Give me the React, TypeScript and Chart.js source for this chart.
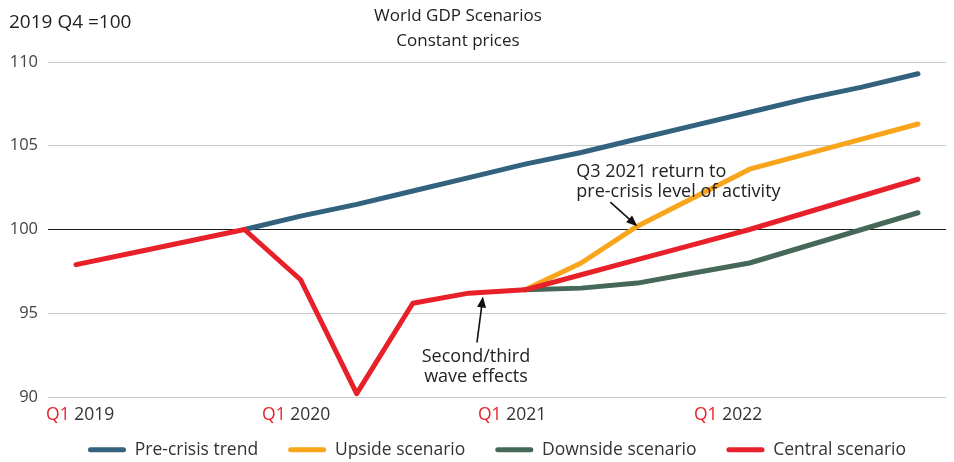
import { useEffect, useRef } from 'react';
import { Chart, registerables } from 'chart.js';

Chart.register(...registerables);

const quarters = [
  'Q1 2019', 'Q2 2019', 'Q3 2019', 'Q4 2019',
  'Q1 2020', 'Q2 2020', 'Q3 2020', 'Q4 2020',
  'Q1 2021', 'Q2 2021', 'Q3 2021', 'Q4 2021',
  'Q1 2022', 'Q2 2022', 'Q3 2022', 'Q4 2022',
];
const preCrisisTrend = [null, null, null, 100, 100.8, 101.5, 102.3, 103.1, 103.9, 104.6, 105.4, 106.2, 107.0, 107.8, 108.5, 109.3];
const upsideScenario = [null, null, null, null, null, null, null, null, 96.4, 98.0, 100.2, 101.9, 103.6, 104.5, 105.4, 106.3];
const downsideScenario = [null, null, null, null, null, null, null, null, 96.4, 96.5, 96.8, 97.4, 98.0, 99.0, 100.0, 101.0];
const centralScenario = [97.9, 98.6, 99.3, 100.0, 97.0, 90.2, 95.6, 96.2, 96.4, 97.3, 98.2, 99.1, 100.0, 101.0, 102.0, 103.0];

const seriesNames = ['Pre-crisis trend', 'Upside scenario', 'Downside scenario', 'Central scenario'];
const seriesColors = ['#33627F', '#F8A51C', '#466858', '#E8202A'];

const xLabelIndices = [0, 4, 8, 12];
const xLabelQuarter = 'Q1';
const xLabelYears = ['2019', '2020', '2021', '2022'];
const xLabelSpacing = 0.962; // labels in the source sit slightly tighter than the quarters

const yTicks = [90, 95, 100, 105, 110];
const titleLines = ['World GDP Scenarios', 'Constant prices'];
const unitLabel = '2019 Q4 =100';
const note1 = ['Q3 2021 return to', 'pre-crisis level of activity'];
const note2 = ['Second/third', 'wave effects'];

const FONT = '"Open Sans", "Noto Sans", sans-serif';

function drawArrow(ctx: CanvasRenderingContext2D, x0: number, y0: number, x1: number, y1: number) {
  const ang = Math.atan2(y1 - y0, x1 - x0);
  const head = 11;
  const half = 4.5;
  ctx.strokeStyle = '#111';
  ctx.fillStyle = '#111';
  ctx.lineWidth = 1.6;
  ctx.beginPath();
  ctx.moveTo(x0, y0);
  ctx.lineTo(x1 - Math.cos(ang) * head * 0.8, y1 - Math.sin(ang) * head * 0.8);
  ctx.stroke();
  ctx.beginPath();
  ctx.moveTo(x1, y1);
  ctx.lineTo(x1 - Math.cos(ang) * head - Math.sin(ang) * half, y1 - Math.sin(ang) * head + Math.cos(ang) * half);
  ctx.lineTo(x1 - Math.cos(ang) * head + Math.sin(ang) * half, y1 - Math.sin(ang) * head - Math.cos(ang) * half);
  ctx.closePath();
  ctx.fill();
}

const overlayPlugin = {
  id: 'overlay',
  afterDraw(chart: any) {
    const { ctx, scales } = chart;
    const x = scales.x;
    const y = scales.y;
    ctx.save();
    ctx.textBaseline = 'middle';

    ctx.fillStyle = '#222';
    ctx.textAlign = 'left';
    ctx.font = `19px ${FONT}`;
    ctx.fillText(unitLabel, 9, 23);

    ctx.textAlign = 'center';
    ctx.font = `17px ${FONT}`;
    ctx.fillText(titleLines[0], 458, 16);
    ctx.fillText(titleLines[1], 458, 41);

    // x labels
    ctx.textAlign = 'left';
    ctx.font = `17.5px ${FONT}`;
    xLabelIndices.forEach((idx, i) => {
      const px = x.getPixelForValue(idx * xLabelSpacing) - 30;
      ctx.fillStyle = '#E8202A';
      ctx.fillText(xLabelQuarter, px, 415);
      const w = ctx.measureText(xLabelQuarter + ' ').width;
      ctx.fillStyle = '#333';
      ctx.fillText(xLabelYears[i], px + w, 415);
    });

    // annotation 1
    const t1x = x.getPixelForValue(10);
    const t1y = y.getPixelForValue(100.2);
    const a1x = t1x - 27;
    const a1y = t1y - 24;
    drawArrow(ctx, a1x, a1y, t1x, t1y);
    ctx.fillStyle = '#222';
    ctx.textAlign = 'left';
    ctx.font = `18px ${FONT}`;
    ctx.fillText(note1[0], a1x - 34, a1y - 30);
    ctx.fillText(note1[1], a1x - 34, a1y - 10);

    // annotation 2
    const t2x = x.getPixelForValue(7.25);
    const t2y = y.getPixelForValue(96.0);
    const a2x = t2x - 6;
    const a2y = t2y + 46;
    drawArrow(ctx, a2x, a2y, t2x, t2y);
    ctx.fillStyle = '#222';
    ctx.textAlign = 'center';
    ctx.fillText(note2[0], a2x - 1, a2y + 14);
    ctx.fillText(note2[1], a2x - 1, a2y + 34);

    ctx.restore();
  },
};

export default function App() {
  const ref = useRef<HTMLCanvasElement | null>(null);

  useEffect(() => {
    if (!ref.current) return;
    const seriesData = [preCrisisTrend, upsideScenario, downsideScenario, centralScenario];
    const orders = [3, 2, 1, 0];
    const chart = new Chart(ref.current, {
      type: 'line',
      data: {
        labels: quarters,
        datasets: seriesData.map((d, i) => ({
          label: seriesNames[i],
          data: d,
          borderColor: seriesColors[i],
          backgroundColor: seriesColors[i],
          borderWidth: 5,
          pointRadius: 0,
          pointHoverRadius: 0,
          tension: 0,
          fill: false,
          borderCapStyle: 'round',
          borderJoinStyle: 'round',
          order: orders[i],
          spanGaps: false,
        })),
      },
      options: {
        responsive: false,
        animation: false,
        events: [],
        layout: { padding: { left: 10, right: 8, top: 62, bottom: 0 } },
        scales: {
          x: {
            type: 'category',
            offset: true,
            grid: { display: false },
            border: { display: false },
            ticks: { display: false },
            afterFit: (s: any) => { s.height = 14; },
          },
          y: {
            min: 90,
            max: 110,
            afterBuildTicks: (s: any) => { s.ticks = yTicks.map((v) => ({ value: v })); },
            afterFit: (s: any) => { s.width = 38; },
            border: { display: false },
            grid: {
              drawTicks: false,
              lineWidth: 1,
              color: (c: any) => (c.tick && c.tick.value === 100 ? '#1a1a1a' : '#c6cacf'),
            },
            ticks: {
              padding: 10,
              color: '#444',
              font: { family: FONT, size: 16.5 },
            },
          },
        },
        plugins: {
          title: { display: false },
          tooltip: { enabled: false },
          legend: {
            position: 'bottom',
            fullSize: false,
            maxHeight: 51,
            labels: {
              boxWidth: 38,
              boxHeight: 5,
              useBorderRadius: true,
              borderRadius: 2.5,
              padding: 30,
              color: '#333',
              font: { family: FONT, size: 17.5 },
              sort: (a: any, b: any) => a.datasetIndex - b.datasetIndex,
              generateLabels: (ch: any) =>
                Chart.defaults.plugins.legend.labels.generateLabels(ch).map((it: any) => ({
                  ...it,
                  fillStyle: seriesColors[it.datasetIndex],
                  strokeStyle: seriesColors[it.datasetIndex],
                  lineWidth: 0,
                  borderRadius: 2.5,
                })),
            },
          },
        },
      },
      plugins: [overlayPlugin],
    } as any);
    return () => chart.destroy();
  }, []);

  return (
    <div style={{ position: 'fixed', left: 0, top: 0, width: 954, height: 462, background: '#fff' }}>
      <canvas ref={ref} width={954} height={462} />
    </div>
  );
}
